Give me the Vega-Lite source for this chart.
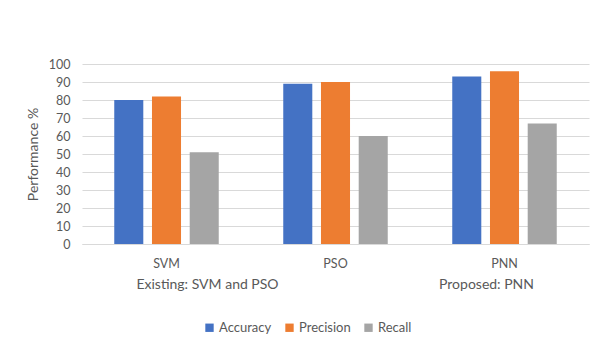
{
  "$schema": "https://vega.github.io/schema/vega-lite/v6.json",
  "width": 507,
  "height": 180,
  "autosize": {"type": "none"},
  "padding": {"left": 82, "top": 64, "right": 11, "bottom": 103},
  "background": "white",
  "config": {
    "view": {"stroke": null},
    "font": "Lato",
    "axis": {"labelFont": "Lato", "titleFont": "Lato", "labelColor": "#595959", "titleColor": "#595959"},
    "legend": {"labelFont": "Lato", "labelColor": "#595959"}
  },
  "datasets": {
    "scores": [
      {"model": "SVM", "metric": "Accuracy", "value": 80},
      {"model": "SVM", "metric": "Precision", "value": 82},
      {"model": "SVM", "metric": "Recall", "value": 51},
      {"model": "PSO", "metric": "Accuracy", "value": 89},
      {"model": "PSO", "metric": "Precision", "value": 90},
      {"model": "PSO", "metric": "Recall", "value": 60},
      {"model": "PNN", "metric": "Accuracy", "value": 93},
      {"model": "PNN", "metric": "Precision", "value": 96},
      {"model": "PNN", "metric": "Recall", "value": 67}
    ]
  },
  "layer": [
    {
      "data": {"name": "scores"},
      "mark": {"type": "bar"},
      "encoding": {
        "x": {
          "field": "model",
          "type": "nominal",
          "sort": ["SVM", "PSO", "PNN"],
          "scale": {"paddingInner": 0, "paddingOuter": 0},
          "axis": {
            "title": null,
            "labelAngle": 0,
            "labelFontSize": 12.5,
            "labelPadding": 13,
            "ticks": false,
            "domain": true,
            "domainColor": "#d9d9d9",
            "domainWidth": 1
          }
        },
        "xOffset": {
          "field": "metric",
          "type": "nominal",
          "sort": ["Accuracy", "Precision", "Recall"],
          "scale": {"paddingInner": 0.23, "paddingOuter": 0.855}
        },
        "y": {
          "field": "value",
          "type": "quantitative",
          "scale": {"domain": [0, 100], "nice": false},
          "axis": {
            "title": "Performance %",
            "titleFontSize": 14,
            "titleFontWeight": "normal",
            "titlePadding": 8,
            "values": [0, 10, 20, 30, 40, 50, 60, 70, 80, 90, 100],
            "labelFontSize": 12.5,
            "labelPadding": 12,
            "ticks": false,
            "domain": false,
            "grid": true,
            "gridColor": "#d9d9d9",
            "gridWidth": 1
          }
        },
        "color": {
          "field": "metric",
          "type": "nominal",
          "sort": ["Accuracy", "Precision", "Recall"],
          "scale": {"range": ["#4472C4", "#ED7D31", "#A5A5A5"]},
          "legend": {
            "title": null,
            "orient": "none",
            "direction": "horizontal",
            "legendX": 121,
            "legendY": 257,
            "symbolType": "square",
            "symbolSize": 70,
            "symbolStrokeWidth": 0,
            "labelFontSize": 13,
            "labelOffset": 3,
            "columnPadding": 11
          }
        }
      }
    },
    {
      "data": {"values": [{"model": "SVM", "group": "Existing: SVM and PSO"}]},
      "mark": {"type": "text", "y": {"expr": "height"}, "dy": 41, "dx": 41, "fontSize": 14, "color": "#595959", "baseline": "middle", "font": "Lato"},
      "encoding": {
        "x": {"field": "model", "type": "nominal", "sort": ["SVM", "PSO", "PNN"], "band": 0.5},
        "text": {"field": "group"}
      }
    },
    {
      "data": {"values": [{"model": "PNN", "group": "Proposed: PNN"}]},
      "mark": {"type": "text", "y": {"expr": "height"}, "dy": 41, "dx": -18, "fontSize": 14, "color": "#595959", "baseline": "middle", "font": "Lato"},
      "encoding": {
        "x": {"field": "model", "type": "nominal", "sort": ["SVM", "PSO", "PNN"], "band": 0.5},
        "text": {"field": "group"}
      }
    }
  ]
}
